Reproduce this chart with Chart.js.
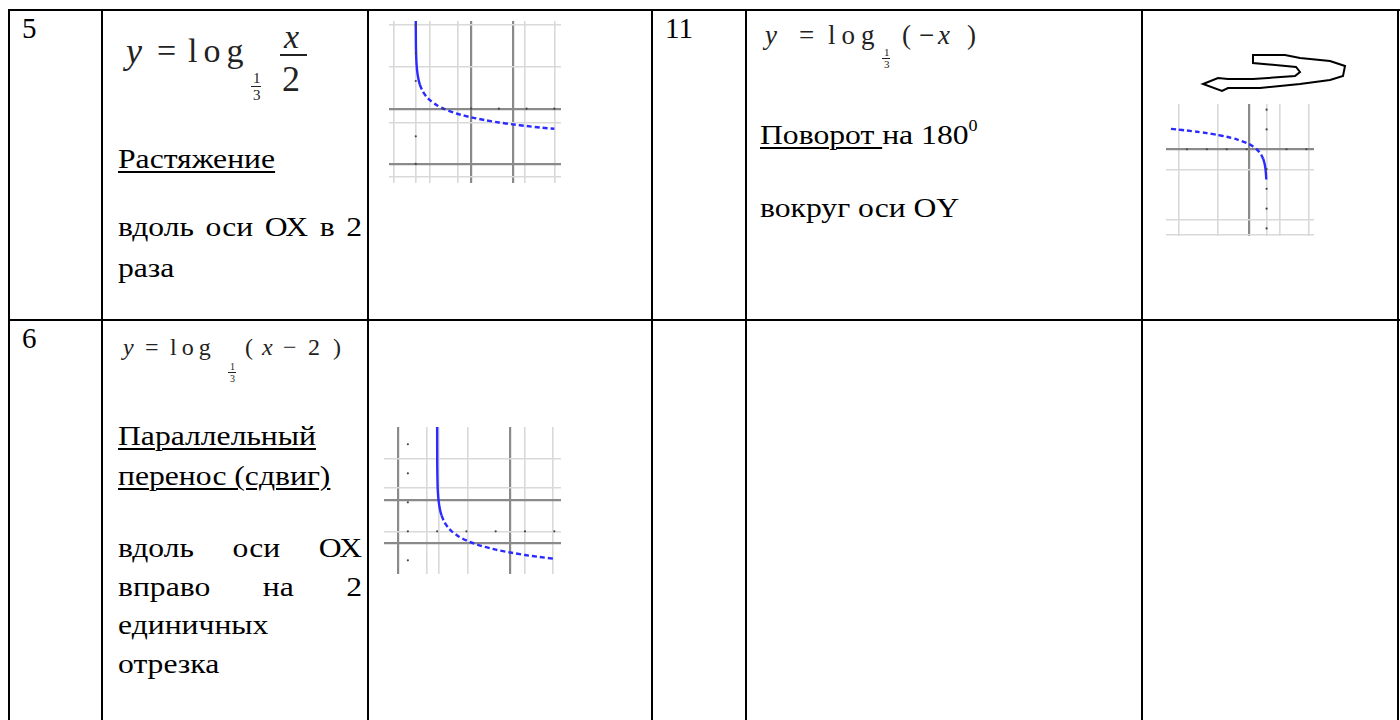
<!DOCTYPE html>
<html><head><meta charset="utf-8">
<script src="https://cdn.jsdelivr.net/npm/chart.js@4.4.1/dist/chart.umd.min.js"></script>
<style>
html,body{margin:0;padding:0;background:#fff;}
#page{position:relative;width:1400px;height:720px;overflow:hidden;font-family:'Liberation Serif',serif;color:#000;}
.ln{position:absolute;background:#000;}
.t{position:absolute;white-space:nowrap;line-height:1;font-size:28px;font-family:'Liberation Serif',serif;transform:scaleX(1.13);transform-origin:0 0;}
.j{position:absolute;line-height:1;font-size:28px;width:216px;text-align:justify;text-align-last:justify;font-family:'Liberation Serif',serif;transform:scaleX(1.13);transform-origin:0 0;}
.n{position:absolute;white-space:nowrap;line-height:1;font-size:29px;font-family:'Liberation Serif',serif;}
.m{position:absolute;white-space:nowrap;line-height:1;color:#222;font-family:'Liberation Serif',serif;}
.i{font-style:italic;}
.bar{position:absolute;background:#222;}
canvas{position:absolute;}
u{text-decoration-thickness:1.5px;text-underline-offset:3px;}
</style></head>
<body><div id="page">
<!-- table rules -->
<div class="ln" style="left:8px;top:9px;width:1392px;height:2px"></div>
<div class="ln" style="left:8px;top:319px;width:1392px;height:2px"></div>
<div class="ln" style="left:8px;top:9px;width:2px;height:711px"></div>
<div class="ln" style="left:101px;top:9px;width:2px;height:711px"></div>
<div class="ln" style="left:367px;top:9px;width:2px;height:711px"></div>
<div class="ln" style="left:651px;top:9px;width:2px;height:711px"></div>
<div class="ln" style="left:745px;top:9px;width:2px;height:711px"></div>
<div class="ln" style="left:1141px;top:9px;width:2px;height:711px"></div>
<div class="ln" style="left:1397px;top:9px;width:2px;height:711px"></div>

<!-- row numbers -->
<div class="n" style="left:22px;top:14px">5</div>
<div class="n" style="left:665px;top:14px">11</div>
<div class="n" style="left:22px;top:324px">6</div>

<!-- formula 1 -->
<div class="m i" style="left:126px;top:33px;font-size:36px">y</div>
<div class="m" style="left:157px;top:34px;font-size:34px">=</div>
<div class="m" style="left:188px;top:34px;font-size:34px;letter-spacing:6px">log</div>
<div class="m" style="left:253px;top:71px;font-size:15px">1</div>
<div class="bar" style="left:251px;top:86px;width:10px;height:1.2px"></div>
<div class="m" style="left:253px;top:88px;font-size:15px">3</div>
<div class="m i" style="left:284px;top:20px;font-size:34px">x</div>
<div class="bar" style="left:280px;top:54px;width:27px;height:1.5px"></div>
<div class="m" style="left:282px;top:61px;font-size:36px">2</div>

<div class="t" style="left:118px;top:145px"><u>Растяжение</u></div>
<div class="j" style="left:118px;top:213px">вдоль оси ОХ в 2</div>
<div class="t" style="left:118px;top:254px">раза</div>

<!-- formula 2 -->
<div class="m i" style="left:765px;top:22px;font-size:27px">y</div>
<div class="m" style="left:799px;top:22px;font-size:27px">=</div>
<div class="m" style="left:828px;top:22px;font-size:27px;letter-spacing:6px">log</div>
<div class="m" style="left:884px;top:47px;font-size:11px">1</div>
<div class="bar" style="left:882px;top:58px;width:8px;height:1px"></div>
<div class="m" style="left:884px;top:59px;font-size:11px">3</div>
<div class="m" style="left:902px;top:22px;font-size:27px">(</div>
<div class="m" style="left:919px;top:22px;font-size:27px">−</div>
<div class="m i" style="left:938px;top:22px;font-size:27px">x</div>
<div class="m" style="left:967px;top:22px;font-size:27px">)</div>

<div class="t" style="left:760px;top:121px"><u>Поворот </u>на 180<span style="font-size:16px;position:relative;top:-13px">0</span></div>
<div class="t" style="left:760px;top:194px">вокруг оси ОY</div>

<!-- formula 3 -->
<div class="m i" style="left:123px;top:335px;font-size:24px">y</div>
<div class="m" style="left:145px;top:335px;font-size:24px">=</div>
<div class="m" style="left:170px;top:335px;font-size:24px;letter-spacing:5px">log</div>
<div class="m" style="left:230px;top:362px;font-size:10px">1</div>
<div class="bar" style="left:228px;top:372px;width:8px;height:1px"></div>
<div class="m" style="left:230px;top:374px;font-size:10px">3</div>
<div class="m" style="left:245px;top:335px;font-size:24px">(</div>
<div class="m i" style="left:262px;top:335px;font-size:24px">x</div>
<div class="m" style="left:283px;top:335px;font-size:24px">−</div>
<div class="m" style="left:308px;top:335px;font-size:24px">2</div>
<div class="m" style="left:333px;top:335px;font-size:24px">)</div>

<div class="t" style="left:118px;top:422px"><u>Параллельный</u></div>
<div class="t" style="left:118px;top:462px"><u>перенос (сдвиг)</u></div>
<div class="j" style="left:118px;top:534px">вдоль оси ОХ</div>
<div class="j" style="left:118px;top:573px">вправо на 2</div>
<div class="t" style="left:118px;top:611px">единичных</div>
<div class="t" style="left:118px;top:650px">отрезка</div>

<!-- curved arrow -->
<svg style="position:absolute;left:0;top:0" width="1400" height="720">
<path d="M1253,55 L1285,55 L1300,58 L1330,61 L1345,66 L1343,76 L1330,80 L1300,84 L1260,88 L1228,88 L1222,91 L1203,84 L1218,78 L1228,79 L1253,79 L1295,76 L1300,72 L1296,67 L1253,63 Z" fill="none" stroke="#000" stroke-width="2" stroke-linejoin="miter"/>
</svg>

<canvas id="c1" width="180" height="170" style="left:385px;top:17px;width:180px;height:170px"></canvas>
<canvas id="c2" width="185" height="155" style="left:380px;top:423px;width:185px;height:155px"></canvas>
<canvas id="c3" width="156" height="140" style="left:1162px;top:100px;width:156px;height:140px"></canvas>
</div>
<script>
// ---- data ----
// y = log_{1/3}(x/2)
const curve1X = [0.001, 0.003, 0.005, 0.01, 0.02, 0.05, 0.1, 0.2, 0.3, 0.5, 0.75, 1, 1.5, 2, 3, 4, 5, 6, 7, 8, 9, 10];
const curve1Y = [6.92, 5.92, 5.45, 4.82, 4.19, 3.36, 2.73, 2.10, 1.73, 1.26, 0.89, 0.63, 0.26, 0, -0.37, -0.63, -0.83, -1.0, -1.14, -1.26, -1.37, -1.46];
// y = log_{1/3}(x-2)
const curve2X = [2.0002, 2.0005, 2.001, 2.005, 2.01, 2.03, 2.05, 2.1, 2.2, 2.3, 2.5, 2.75, 3, 3.5, 4, 5, 6, 7, 8, 9, 10];
const curve2Y = [7.75, 6.92, 6.29, 4.82, 4.19, 3.19, 2.73, 2.10, 1.47, 1.10, 0.63, 0.26, 0, -0.37, -0.63, -1.0, -1.26, -1.46, -1.63, -1.77, -1.89];
// y = log_{1/3}(-x) as drawn
const curve3X = [-9.6, -9, -8, -7, -6, -5, -4, -3, -2, -1.5, -1, -0.7, -0.5, -0.35, -0.25, -0.18, -0.12, -0.08, -0.05, -0.035];
const curve3Y = [2.06, 2.0, 1.89, 1.77, 1.63, 1.46, 1.26, 1.0, 0.63, 0.37, 0, -0.32, -0.63, -0.96, -1.26, -1.56, -1.93, -2.30, -2.73, -3.05];

// grid line values and tick marks
const grid1X = [-1.6, 0, 1.0, 3.0, 4.0, 7.0, 7.9, 10.0];
const grid1Y = [6.1, 3.0, 0, -1.0, -4.0, -4.9];
const tick1X = [2, 4, 6, 8, 10];
const tick1Y = [6, 4, 2, -2, -4];
const grid2X = [-0.65, 1.3, 2.1, 4.1, 7.0, 8.0, 9.9];
const grid2Y = [5.0, 3.0, 2.15, 0, -0.8];
const tick2X = [0, 2, 4, 6, 8, 10];
const tick2Y = [6, 4, 2, -2];
const grid3X = [-8.86, -4.86, -1.71, 0, 1.33, 4.2];
const grid3Y = [0, -2.1, -7.14, -8.6];
const tick3X = [-8, -6, -4, -2, 2, 4];
const tick3Y = [4, 2, -2, -4, -6, -8];

// ---- drawing ----
function makeChart(id, xs, ys, gx, gy, darkX, darkY, tx, ty, xr, yr) {
  const pts = xs.map((x, i) => ({x: x, y: ys[i]}));
  const dots = tx.map(v => ({x: v, y: 0})).concat(ty.map(v => ({x: 0, y: v})));
  const gridOpts = (dark) => ({
    drawTicks: false,
    color: c => dark.includes(c.tick && c.tick.value) ? '#8a8a8a' : '#d9d9d9',
    lineWidth: c => dark.includes(c.tick && c.tick.value) ? 2.2 : 1.6
  });
  new Chart(document.getElementById(id), {
    type: 'scatter',
    data: {datasets: [
      {data: dots, pointRadius: 1.1, pointBackgroundColor: '#444', pointBorderWidth: 0, showLine: false},
      {data: pts, showLine: true, borderColor: '#2b2bff', borderWidth: 2.4, pointRadius: 0, tension: 0.25,
       borderDash: [],
       segment: {borderDash: c => Math.abs(c.p1.y - c.p0.y) > 2.5 * Math.abs(c.p1.x - c.p0.x) ? [] : [5, 3]}}
    ]},
    options: {
      responsive: false, animation: false, events: [],
      layout: {padding: 0},
      plugins: {legend: {display: false}, tooltip: {enabled: false}},
      scales: {
        x: {type: 'linear', min: xr[0], max: xr[1], afterBuildTicks: a => { a.ticks = gx.map(v => ({value: v})); },
            ticks: {display: false}, border: {display: false}, grid: gridOpts(darkX)},
        y: {type: 'linear', min: yr[0], max: yr[1], afterBuildTicks: a => { a.ticks = gy.map(v => ({value: v})); },
            ticks: {display: false}, border: {display: false}, grid: gridOpts(darkY)}
      }
    }
  });
}
makeChart('c1', curve1X, curve1Y, grid1X, grid1Y, [4.0, 7.0], [0, -4.0], tick1X, tick1Y, [-1.93, 10.48], [-5.38, 6.34]);
makeChart('c2', curve2X, curve2Y, grid2X, grid2Y, [-0.65, 7.0], [2.15, -0.8], tick2X, tick2Y, [-1.63, 10.46], [-2.94, 7.19]);
makeChart('c3', curve3X, curve3Y, grid3X, grid3Y, [-1.71], [0], tick3X, tick3Y, [-10.1, 4.76], [-8.76, 4.57]);
</script>
</body></html>
